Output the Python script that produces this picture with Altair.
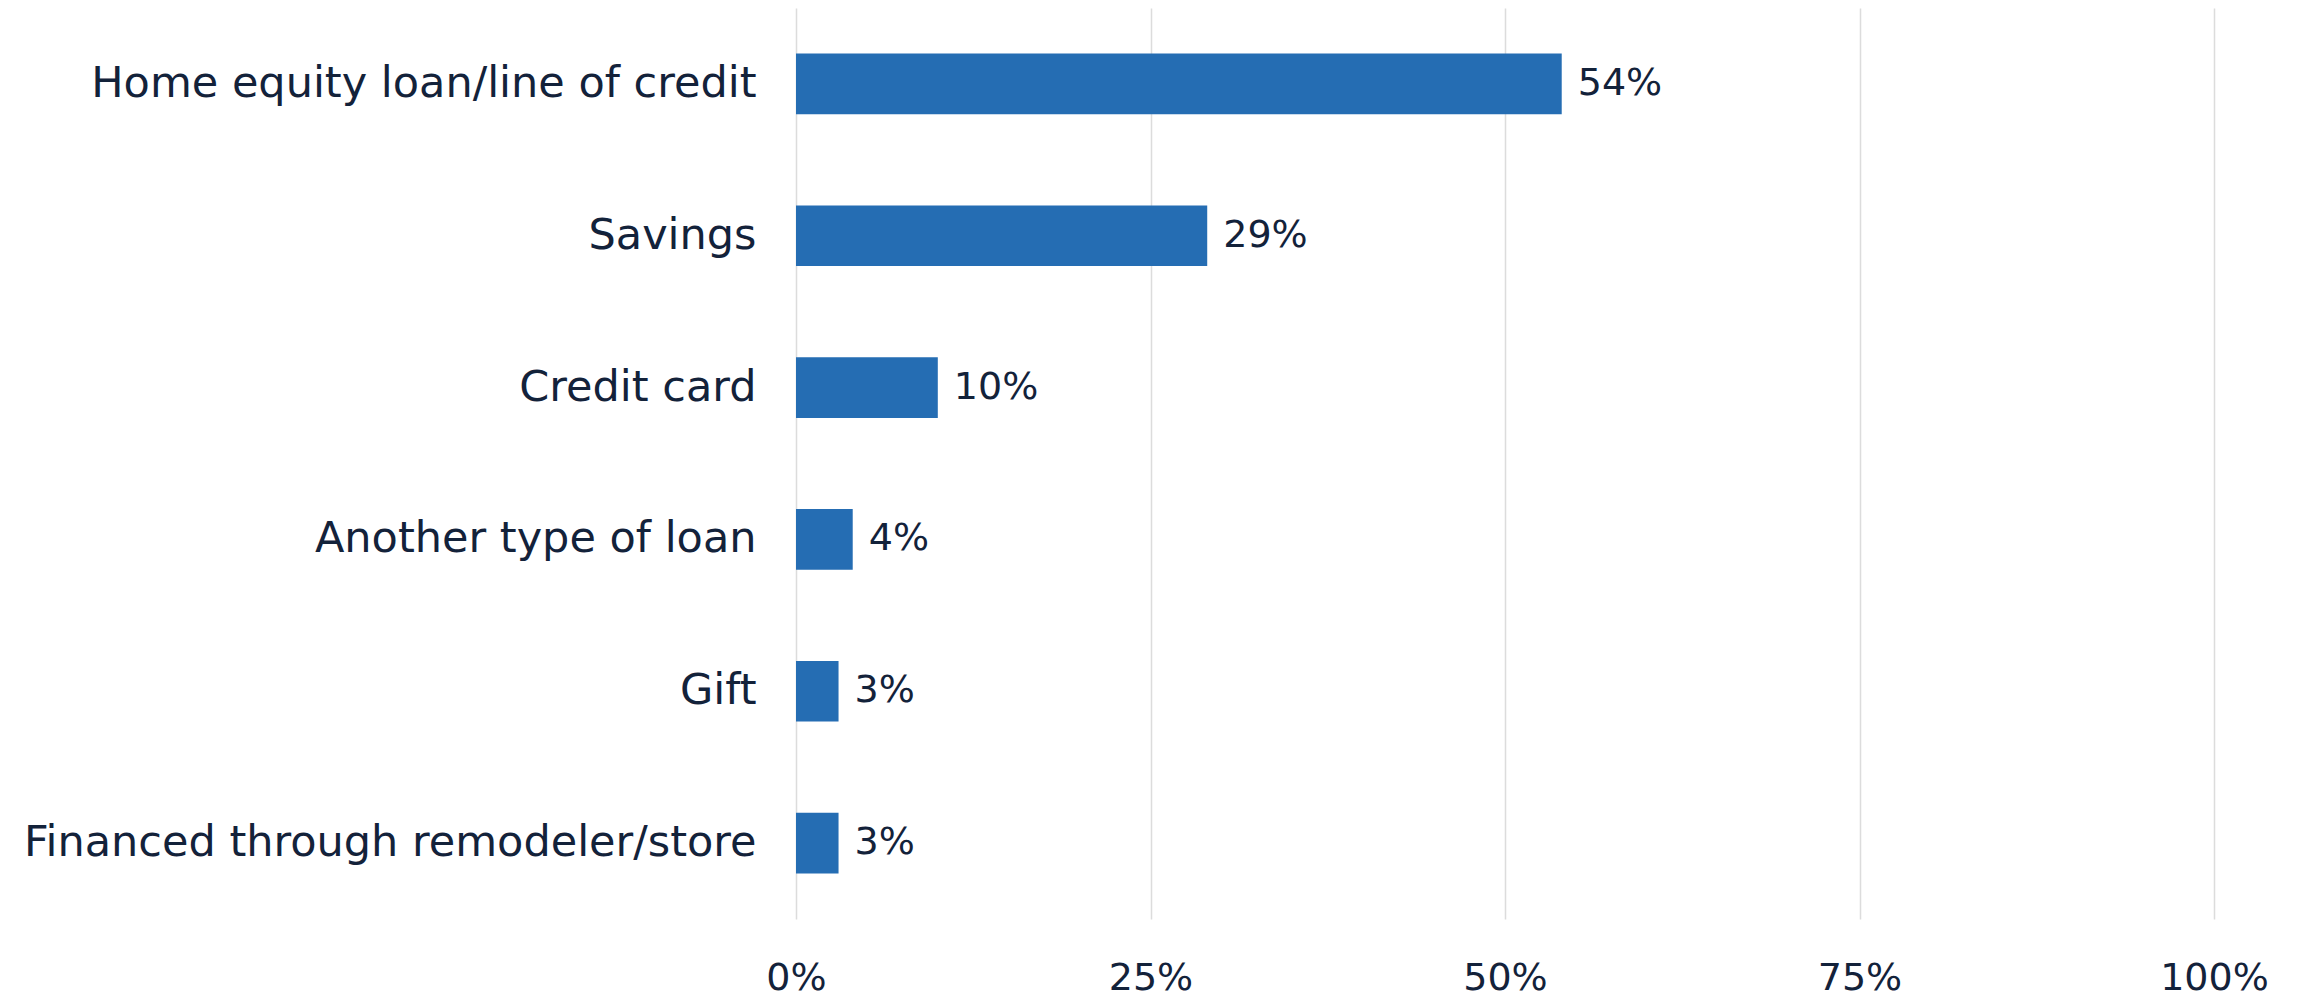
import altair as alt
import pandas as pd

categories = [
    "Home equity loan/line of credit",
    "Savings",
    "Credit card",
    "Another type of loan",
    "Gift",
    "Financed through remodeler/store",
]
values = [54, 29, 10, 4, 3, 3]
labels = ["54%", "29%", "10%", "4%", "3%", "3%"]
tick_values = [0, 25, 50, 75, 100]

df = pd.DataFrame({"category": categories, "value": values, "label": labels})

FONT = "DejaVu Sans"
TEXT = "#13223a"

y = alt.Y(
    "category:N",
    sort=categories,
    title=None,
    scale=alt.Scale(paddingInner=0.6, paddingOuter=0.3),
    axis=alt.Axis(
        domain=False, ticks=False, labelPadding=40, labelFontSize=43,
        labelFont=FONT, labelColor=TEXT, labelFontWeight="normal",
        minExtent=788, maxExtent=788, labelLimit=0,
    ),
)
x = alt.X(
    "value:Q",
    title=None,
    scale=alt.Scale(domain=[0, 100]),
    axis=alt.Axis(
        values=tick_values, labelExpr="datum.value + '%'", domain=False, ticks=False,
        grid=True, gridColor="#dcdcdc", gridWidth=1.5, labelPadding=40, labelFlush=False,
        labelFontSize=38, labelFont=FONT, labelColor=TEXT, labelFontWeight="normal",
    ),
)

bars = alt.Chart(df).mark_bar(color="#256db3").encode(x=x, y=y)
text = alt.Chart(df).mark_text(
    align="left", baseline="middle", dx=16, fontSize=38, font=FONT, color=TEXT
).encode(x="value:Q", y=alt.Y("category:N", sort=categories), text="label:N")

chart = (
    (bars + text)
    .properties(
        width=1418, height=911, background="#ffffff",
        padding={"left": 0, "top": 0, "right": 5, "bottom": 5},
    )
    .configure_view(strokeWidth=0, stroke=None)
)

chart.save("out.html", embed_options={"renderer": "svg", "actions": False})
